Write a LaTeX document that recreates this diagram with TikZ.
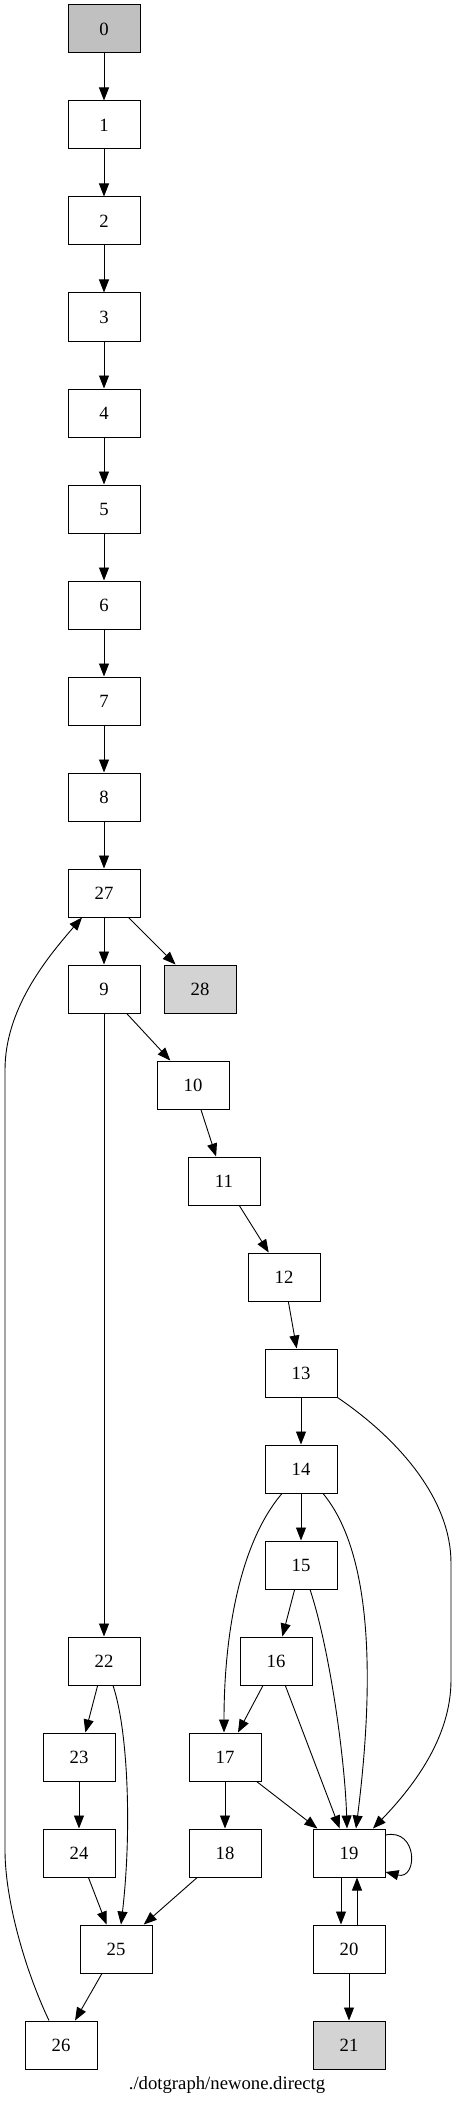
\documentclass[tikz,border=0pt]{standalone}
\usepackage{fontspec}
\setmainfont{Liberation Serif}
\usetikzlibrary{arrows.meta}

\definecolor{startgray}{HTML}{C0C0C0}
\definecolor{endgray}{HTML}{D3D3D3}

\begin{document}
\begin{tikzpicture}[
    x=1pt, y=-1pt,
    >={Triangle[length=13pt, width=10pt]},
    vtx/.style={
        draw, line width=1pt,
        minimum height=48pt, minimum width=72pt,
        inner sep=0pt, font=\fontsize{18.7}{22}\selectfont
    },
    arr/.style={->, line width=0.9pt},
]
\useasboundingbox (0,0) rectangle (456,2108);

% Main chain, one rank every 96px
\node[vtx, fill=startgray] (0) at (104, 29) {0};
\node[vtx] (1) at (104, 125) {1};
\node[vtx] (2) at (104, 221) {2};
\node[vtx] (3) at (104, 317) {3};
\node[vtx] (4) at (104, 413) {4};
\node[vtx] (5) at (104, 509) {5};
\node[vtx] (6) at (104, 605) {6};
\node[vtx] (7) at (104, 701) {7};
\node[vtx] (8) at (104, 797) {8};
\node[vtx] (27) at (104, 893) {27};
\node[vtx] (9) at (104, 989) {9};
\node[vtx, fill=endgray] (28) at (200, 989) {28};

% Right branch
\node[vtx] (10) at (193, 1085) {10};
\node[vtx] (11) at (224, 1181) {11};
\node[vtx] (12) at (284, 1277) {12};
\node[vtx] (13) at (301, 1373) {13};
\node[vtx] (14) at (301, 1469) {14};
\node[vtx] (15) at (301, 1565) {15};
\node[vtx] (16) at (276, 1661) {16};
\node[vtx] (17) at (225, 1757) {17};
\node[vtx] (18) at (225, 1853) {18};
\node[vtx] (19) at (349, 1853) {19};
\node[vtx] (20) at (349, 1949) {20};
\node[vtx, fill=endgray] (21) at (349, 2045) {21};

% Left branch
\node[vtx] (22) at (104, 1661) {22};
\node[vtx] (23) at (79, 1757) {23};
\node[vtx] (24) at (79, 1853) {24};
\node[vtx] (25) at (116, 1949) {25};
\node[vtx] (26) at (61, 2045) {26};

\node[font=\fontsize{18.7}{22}\selectfont] (caption) at (227, 2085) {./dotgraph/newone.directg};

% Straight edges
\foreach \a/\b in {0/1, 1/2, 2/3, 3/4, 4/5, 5/6, 6/7, 7/8, 8/27, 27/9, 27/28,
                   9/10, 10/11, 11/12, 12/13, 13/14, 14/15, 15/16, 16/17, 16/19,
                   17/19, 17/18, 18/25, 9/22, 22/23, 23/24, 24/25, 25/26, 20/21}
    \draw[arr] (\a) -- (\b);

% Between 19 and 20, both ways
\draw[arr] ([xshift=-8]19.south) -- ([xshift=-8]20.north);
\draw[arr] ([xshift=8]20.north) -- ([xshift=8]19.south);

% Self loop on 19
\draw[arr] ([yshift=18]19.east) .. controls (418,1828) and (418,1880) .. ([yshift=-19]19.east);

% Curved edges into 17 and 19
\draw[arr] ([xshift=-19]14.south) .. controls (238,1545) and (224,1640) .. ([xshift=-1]17.north);
\draw[arr] ([xshift=22]14.south) .. controls (370,1550) and (376,1670) .. ([xshift=7]19.north);
\draw[arr] ([xshift=9]15.south) .. controls (330,1650) and (345,1760) .. ([xshift=-2]19.north);
\draw[arr] (13.south east) .. controls (400,1440) and (451,1500) .. (451,1563)
    -- (451,1680) .. controls (451,1740) and (410,1790) .. ([xshift=24]19.north);

% Left side: 22 to 25, and the long way back from 26 to 27
\draw[arr] ([xshift=9]22.south) .. controls (128,1730) and (132,1830) .. ([xshift=5]25.north);
\draw[arr] ([xshift=-12]26.north) .. controls (25,1970) and (5,1900) .. (5,1850)
    -- (5,1070) .. controls (5,1010) and (45,960) .. ([xshift=-22]27.south);

\end{tikzpicture}
\end{document}
